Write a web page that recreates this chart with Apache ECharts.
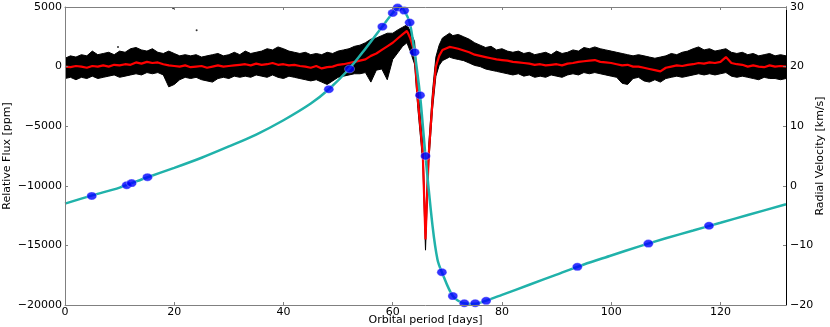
<!DOCTYPE html>
<html>
<head>
<meta charset="UTF-8">
<title>Light curve and radial velocity</title>
<script src="https://cdn.jsdelivr.net/npm/echarts@6.0.0/dist/echarts.min.js"></script>
<style>
  *{margin:0;padding:0;}
  body{background:#fff;}
  #main{width:830px;height:327px;}
</style>
</head>
<body>
<div id="main"></div>
<script>
// orbital phase in days
var days = [0,1,2,3,4,5,6,7,8,9,10,11,12,13,14,15,16,17,18,19,20,21,22,23,24,25,26,27,28,29,
  30,31,32,33,34,35,36,37,38,39,40,41,42,43,44,45,46,47,48,49,50,51,52,53,54,55,56,57,58,59,60,61,
  61.8,62.6,63.2,64,64.6,65,65.5,66,66.2,66.6,67.3,67.9,68.5,69.1,70.4,
  71,72,73,74,75,76,77,78,79,80,81,82,83,84,85,86,87,88,89,90,91,92,93,94,95,96,97,98,99,
  100,101,102,103,104,105,106,107,108,109,110,111,112,113,114,115,116,117,118,119,
  120,121,122,123,124,125,126,127,128,129,130,131,132];

// binned flux (red) [ppm]
var fluxMid = [0,-50,50,0,-100,50,0,100,0,150,100,200,150,350,250,400,300,350,200,100,
  50,0,100,-50,0,50,-100,0,100,0,50,100,150,200,100,250,150,200,300,150,
  200,100,150,50,0,-100,50,-150,-50,0,150,200,300,400,500,600,900,1100,1400,1700,2000,2400,
  2700,3000,2400,1200,-2800,-4800,-7300,-14500,-12000,-7300,-2800,0,900,1400,1650,
  1600,1500,1350,1200,1000,900,800,700,600,550,500,400,350,300,250,150,200,100,150,
  200,100,250,300,400,450,500,550,400,350,300,200,100,150,0,0,-100,-200,-300,-400,
  -100,0,100,50,150,200,300,250,350,300,400,800,300,200,150,0,100,0,-50,100,0,50,0];

// upper and lower edge of the raw points (black) [ppm]
var fluxTop = [700,900,800,1000,900,1300,1000,1100,1200,1000,1300,1200,1500,1600,1400,1300,1500,1200,1100,1300,
  1100,900,1000,900,1000,800,900,1000,1100,900,1000,1200,1000,1300,1100,1200,1300,1500,1400,1650,
  1500,1300,1200,1100,1200,1000,1100,1000,1200,1100,1300,1400,1500,1700,1800,2000,2300,2400,2600,2800,2800,3100,
  3300,3500,3000,2100,-1600,-3800,-6500,-13200,-11000,-6500,-2000,800,1800,2400,2800,
  2600,2700,2500,2300,2000,1800,1600,1700,1400,1500,1300,1200,1300,1100,1200,1000,1100,1200,1000,
  1300,1100,1200,1400,1300,1600,1500,1650,1500,1400,1300,1200,1100,1000,900,1000,900,800,700,800,
  900,1100,1000,1200,1300,1500,1650,1400,1500,1300,1400,1500,1200,1100,1200,1000,1100,900,1000,1100,900,1000,900];

var fluxBottom = [-1000,-900,-1100,-900,-1000,-800,-1000,-900,-800,-700,-900,-800,-700,-600,-700,-500,-600,-500,-700,-1700,
  -1500,-1100,-900,-1000,-900,-1100,-1200,-1300,-1000,-900,-1000,-800,-900,-800,-900,-700,-800,-900,-700,-900,
  -1000,-800,-900,-1000,-1100,-1200,-1100,-1300,-1500,-1200,-900,-800,-700,-600,-600,-500,-1300,-300,-200,-1100,600,1200,
  1700,2000,1300,200,-3500,-5500,-8000,-15400,-12800,-8000,-3500,-800,100,500,800,
  700,600,500,300,100,0,-200,-300,-400,-500,-600,-700,-600,-800,-700,-900,-800,-900,-700,
  -800,-900,-700,-600,-700,-500,-600,-500,-600,-700,-800,-900,-1400,-1500,-1000,-900,-1200,-1300,-1100,-1300,
  -1000,-900,-800,-900,-800,-700,-600,-700,-600,-700,-600,-500,-800,-900,-800,-900,-1000,-1100,-900,-1000,-1000,-1100,-1000];

// a few stray points [day, ppm]
var strayPoints = [[9.7,1650],[19.8,4900],[24.1,3050]];

// radial velocity model curve [day, km/s]
var rvModel = [[0,-3.0],[5,-1.6],[10,-0.3],[15,1.4],[20,3.0],[25,4.7],[30,6.6],[35,8.6],[40,11.0],
  [45,13.8],[48.3,16.2],[52,19.6],[55,23.0],[58,26.6],[60,29.0],[61.3,30.0],[62.1,29.4],[63.1,27.4],
  [64,22.4],[65,15.2],[66,5.0],[67.3,-6.8],[68.2,-12.4],[69,-14.5],[71,-18.5],[73,-19.7],[75,-19.8],
  [77,-19.3],[80,-18.3],[85,-16.6],[90,-14.9],[95,-13.2],[100,-11.7],[105,-10.2],[110,-8.8],
  [115,-7.5],[120,-6.2],[125,-4.9],[132,-3.1]];

// measured radial velocities [day, km/s]
var rvPoints = [[4.9,-1.7],[11.3,0.1],[12.2,0.45],[15.1,1.45],[48.3,16.2],[52.1,19.6],[58.1,26.7],
  [60.0,29.0],[60.9,29.9],[62.1,29.4],[63.1,27.4],[64.0,22.4],[65.0,15.2],[66.0,5.0],[69.0,-14.5],
  [71.0,-18.5],[73.1,-19.7],[75.1,-19.7],[77.1,-19.3],[93.8,-13.6],[106.8,-9.7],[117.9,-6.7]];

function pairs(ys) {
  return days.map(function (d, i) { return [d, ys[i]]; });
}
function minus(v) {
  return String(v).replace('-', '\u2212');
}

var font = 'DejaVu Sans';
var grey = '#808080';

var chart = echarts.init(document.getElementById('main'));
chart.setOption({
  animation: false,
  textStyle: {fontFamily: font},
  grid: {left: 65, right: 44, top: 7, bottom: 22, containLabel: false, outerBoundsMode: 'none'},
  xAxis: [{
    type: 'value', min: 0, max: 132, interval: 20, z: 10,
    name: 'Orbital period [days]', nameLocation: 'middle', nameGap: 10, nameMoveOverlap: false,
    nameTextStyle: {fontFamily: font, fontSize: 11, color: '#000'},
    axisLine: {onZero: false, lineStyle: {color: grey, width: 1}},
    axisTick: {inside: true, length: 3, lineStyle: {color: grey}},
    axisLabel: {fontFamily: font, fontSize: 11, color: '#000', margin: 2, showMaxLabel: false},
    splitLine: {show: false}
  }, {
    type: 'value', position: 'top', min: 0, max: 132, interval: 20, z: 10,
    axisLine: {onZero: false, lineStyle: {color: grey, width: 1}},
    axisTick: {inside: true, length: 3, lineStyle: {color: grey}},
    axisLabel: {show: false},
    splitLine: {show: false}
  }],
  yAxis: [{
    type: 'value', min: -20000, max: 5000, interval: 5000, z: 10,
    name: 'Relative Flux [ppm]', nameLocation: 'middle', nameGap: 52, nameMoveOverlap: false,
    nameTextStyle: {fontFamily: font, fontSize: 11, color: '#000'},
    axisLine: {show: true, onZero: false, lineStyle: {color: grey, width: 1}},
    axisTick: {show: true, inside: true, length: 3, lineStyle: {color: grey}},
    axisLabel: {fontFamily: font, fontSize: 11, color: '#000', margin: 3, formatter: minus},
    splitLine: {show: false}
  }, {
    type: 'value', min: -20, max: 30, interval: 10, z: 10, position: 'right',
    name: 'Radial Velocity [km/s]', nameLocation: 'middle', nameGap: 29, nameMoveOverlap: false,
    nameTextStyle: {fontFamily: font, fontSize: 11, color: '#000'},
    axisLine: {show: true, onZero: false, lineStyle: {color: '#000', width: 1}},
    axisTick: {show: true, inside: true, length: 3, lineStyle: {color: grey}},
    axisLabel: {fontFamily: font, fontSize: 11, color: '#000', margin: 4, formatter: minus},
    splitLine: {show: false}
  }],
  series: [{
    // black cloud of raw points, filled down from the top edge
    type: 'line', data: pairs(fluxTop), symbol: 'none', z: 1,
    lineStyle: {color: '#000', width: 1},
    areaStyle: {color: '#000', opacity: 1, origin: -20000}
  }, {
    // blank out everything below the lower edge
    type: 'line', data: pairs(fluxBottom), symbol: 'none', z: 1,
    lineStyle: {color: '#000', width: 1},
    areaStyle: {color: '#fff', opacity: 1, origin: -20000}
  }, {
    type: 'scatter', data: strayPoints, symbolSize: 2, z: 2,
    itemStyle: {color: '#000'}
  }, {
    type: 'line', data: pairs(fluxMid), symbol: 'none', z: 3,
    lineStyle: {color: '#ff0000', width: 2.2}
  }, {
    type: 'line', yAxisIndex: 1, data: rvModel, symbol: 'none', z: 4,
    smooth: 0.3,
    lineStyle: {color: '#20b2aa', width: 2.5}
  }, {
    type: 'scatter', yAxisIndex: 1, data: rvPoints, symbol: 'circle', symbolSize: [10, 8], z: 5,
    clip: false,
    itemStyle: {color: '#0000ff', borderColor: '#fff', borderWidth: 0.4}
  }]
});
</script>
</body>
</html>
